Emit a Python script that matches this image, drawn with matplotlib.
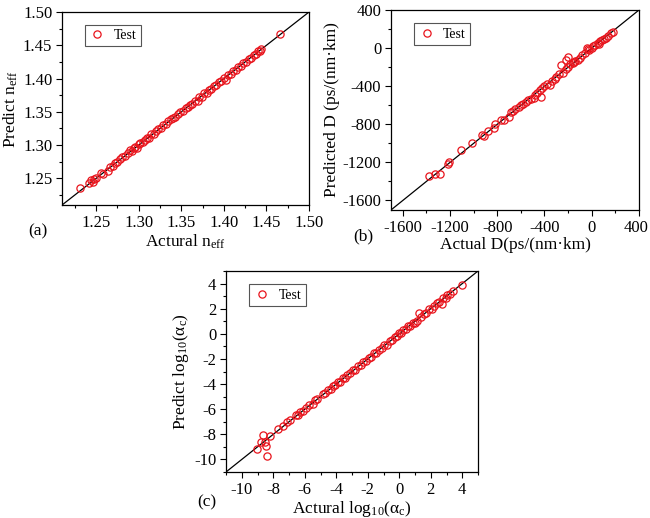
import matplotlib.pyplot as plt
from matplotlib.transforms import ScaledTranslation

plt.rcParams['font.family'] = 'Liberation Serif'
plt.rcParams['mathtext.fontset'] = 'stix'

# (a) effective index
act_a = [1.231, 1.242, 1.244, 1.246, 1.248, 1.250, 1.256, 1.258, 1.264, 1.266,
         1.270, 1.272, 1.275, 1.278, 1.281, 1.284, 1.287, 1.290, 1.292, 1.294,
         1.296, 1.298, 1.300, 1.302, 1.305, 1.307, 1.310, 1.312, 1.315, 1.318,
         1.320, 1.323, 1.326, 1.329, 1.332, 1.335, 1.338, 1.340, 1.343, 1.346,
         1.349, 1.352, 1.355, 1.358, 1.360, 1.363, 1.366, 1.370, 1.371, 1.374,
         1.377, 1.380, 1.382, 1.385, 1.388, 1.391, 1.394, 1.397, 1.400, 1.402,
         1.405, 1.408, 1.411, 1.414, 1.417, 1.420, 1.423, 1.426, 1.429, 1.432,
         1.435, 1.438, 1.440, 1.442, 1.444, 1.466]
pred_a = [1.236, 1.243, 1.247, 1.244, 1.249, 1.251, 1.258, 1.257, 1.261, 1.267,
          1.269, 1.273, 1.274, 1.279, 1.282, 1.283, 1.288, 1.292, 1.291, 1.295,
          1.297, 1.296, 1.301, 1.303, 1.304, 1.308, 1.311, 1.310, 1.316, 1.317,
          1.321, 1.324, 1.325, 1.330, 1.331, 1.336, 1.339, 1.341, 1.342, 1.347,
          1.350, 1.351, 1.356, 1.357, 1.361, 1.362, 1.367, 1.366, 1.372, 1.373,
          1.378, 1.379, 1.383, 1.384, 1.389, 1.390, 1.395, 1.396, 1.401, 1.398,
          1.406, 1.407, 1.412, 1.413, 1.418, 1.419, 1.424, 1.425, 1.430, 1.431,
          1.436, 1.437, 1.441, 1.441, 1.445, 1.467]

# (b) dispersion
act_b = [-1374, -1323, -1284, -1219, -1210, -1106, -1015, -931, -916, -880,
         -830, -820, -770, -740, -700, -680, -670, -650, -620, -600,
         -580, -560, -540, -510, -490, -480, -460, -440, -433, -420,
         -400, -380, -357, -340, -310, -300, -280, -257, -240, -220,
         -215, -202, -200, -180, -160, -150, -140, -120, -100, -80,
         -60, -40, -30, -20, 0, 10, 30, 50, 60, 70,
         90, 100, 120, 140, 160, 180]
pred_b = [-1344, -1319, -1326, -1221, -1196, -1074, -996, -916, -926, -870,
          -840, -800, -750, -750, -720, -670, -660, -640, -620, -600,
          -590, -570, -540, -530, -520, -490, -470, -440, -512, -420,
          -400, -380, -389, -340, -320, -300, -270, -179, -260, -220,
          -126, -91, -200, -170, -160, -150, -130, -120, -100, -70,
          -50, 0, -10, -20, 0, 20, 30, 50, 40, 70,
          90, 100, 110, 130, 160, 170]

# (c) confinement loss
act_c = [-9.02, -8.80, -8.65, -8.55, -8.44, -8.37, -8.20, -7.73, -7.35, -7.10,
         -6.95, -6.55, -6.40, -6.30, -6.10, -5.95, -5.70, -5.50, -5.35, -5.20,
         -4.85, -4.70, -4.50, -4.35, -4.20, -4.05, -3.90, -3.75, -3.60, -3.45,
         -3.30, -3.10, -2.95, -2.80, -2.60, -2.45, -2.30, -2.10, -1.95, -1.80,
         -1.60, -1.45, -1.30, -1.10, -0.95, -0.80, -0.60, -0.45, -0.30, -0.15,
         0.00, 0.10, 0.25, 0.40, 0.55, 0.70, 0.85, 1.00, 1.10, 1.25,
         1.40, 1.55, 1.70, 1.90, 2.05, 2.20, 2.40, 2.55, 2.72, 2.80,
         2.95, 3.05, 3.20, 3.43, 4.00]
pred_c = [-9.13, -8.65, -8.05, -8.60, -8.95, -9.75, -8.10, -7.54, -7.34, -7.05,
          -6.90, -6.50, -6.45, -6.25, -6.15, -5.90, -5.65, -5.55, -5.30, -5.15,
          -4.80, -4.75, -4.45, -4.40, -4.15, -4.10, -3.85, -3.80, -3.55, -3.50,
          -3.25, -3.15, -2.90, -2.85, -2.55, -2.50, -2.25, -2.15, -1.90, -1.85,
          -1.55, -1.50, -1.25, -1.15, -0.90, -0.85, -0.55, -0.50, -0.25, -0.20,
          0.05, 0.05, 0.30, 0.35, 0.60, 0.65, 0.90, 0.85, 1.05, 1.62,
          1.35, 1.60, 1.65, 1.95, 2.00, 2.25, 2.45, 2.50, 2.36, 2.85,
          2.89, 3.10, 3.15, 3.42, 3.87]

fig = plt.figure(figsize=(6.5, 5.18), dpi=100)

panels = [
    dict(rect=[0.0954, 0.6042, 0.380, 0.3726], x=act_a, y=pred_a,
         lim=(1.21, 1.50), ticks=[1.25, 1.30, 1.35, 1.40, 1.45, 1.50], fmt='{:.2f}',
         xlabel=r'Actural n$_\mathregular{eff}$', ylabel=r'Predict n$_\mathregular{eff}$',
         tag='(a)', tagpos=(38, 231)),
    dict(rect=[0.6015, 0.5946, 0.3815, 0.386], x=act_b, y=pred_b,
         lim=(-1700, 400), ticks=[-1600, -1200, -800, -400, 0, 400], fmt='{:d}',
         xlabel='Actual D(ps/(nm·km)', ylabel='Predicted D (ps/(nm·km)',
         tag='(b)', tagpos=(363, 236)),
    dict(rect=[0.3477, 0.0888, 0.3877, 0.388], x=act_c, y=pred_c,
         lim=(-11, 5), ticks=[-10, -8, -6, -4, -2, 0, 2, 4], fmt='{:d}',
         xlabel=r'Actural log$_\mathregular{10}$($\mathregular{\alpha_c}$)',
         ylabel=r'Predict log$_\mathregular{10}$($\mathregular{\alpha_c}$)',
         tag='(c)', tagpos=(207, 502)),
]

axes = []
for p in panels:
    ax = fig.add_axes(p['rect'])
    lo, hi = p['lim']
    ax.plot([lo, hi], [lo, hi], color='black', lw=0.9, zorder=1)
    ax.plot(p['x'], p['y'], linestyle='none', marker='o', ms=5.2, mfc='none',
            mec='#e8141c', mew=0.9, label='Test', zorder=2)
    ax.set_xlim(lo, hi)
    ax.set_ylim(lo, hi)
    ax.set_xticks(p['ticks'])
    ax.set_yticks(p['ticks'])
    ax.set_xticklabels([p['fmt'].format(t) for t in p['ticks']])
    ax.set_yticklabels([p['fmt'].format(t) for t in p['ticks']])
    step = p['ticks'][1] - p['ticks'][0]
    ax.xaxis.set_minor_locator(plt.MultipleLocator(step / 2))
    ax.yaxis.set_minor_locator(plt.MultipleLocator(step / 2))
    ax.tick_params(which='both', direction='out', top=False, right=False,
                   labelsize=12, width=0.8, pad=3)
    ax.tick_params(which='major', length=4)
    ax.tick_params(which='minor', length=2.5)
    for s in ax.spines.values():
        s.set_linewidth(0.9)
    ax.set_xlabel(p['xlabel'], fontsize=12.5, labelpad=1)
    ax.set_ylabel(p['ylabel'], fontsize=12.5, labelpad=2)
    leg = ax.legend(loc='upper left', bbox_to_anchor=(0.093, 0.933),
                    borderaxespad=0, fontsize=10, fancybox=False, framealpha=1,
                    edgecolor='#555555', handlelength=1.2, handletextpad=0.6,
                    borderpad=0.3)
    leg.get_frame().set_linewidth(0.8)
    tx, ty = p['tagpos']
    fig.text(tx / 650, 1 - ty / 518, p['tag'], fontsize=12.5, ha='center', va='center')
    axes.append(ax)

# keep the last x tick label of (b) inside the canvas
last = axes[1].get_xticklabels()[-1]
last.set_transform(last.get_transform() + ScaledTranslation(-3 / 100, 0, fig.dpi_scale_trans))

fig.savefig('out.png', dpi=100)
